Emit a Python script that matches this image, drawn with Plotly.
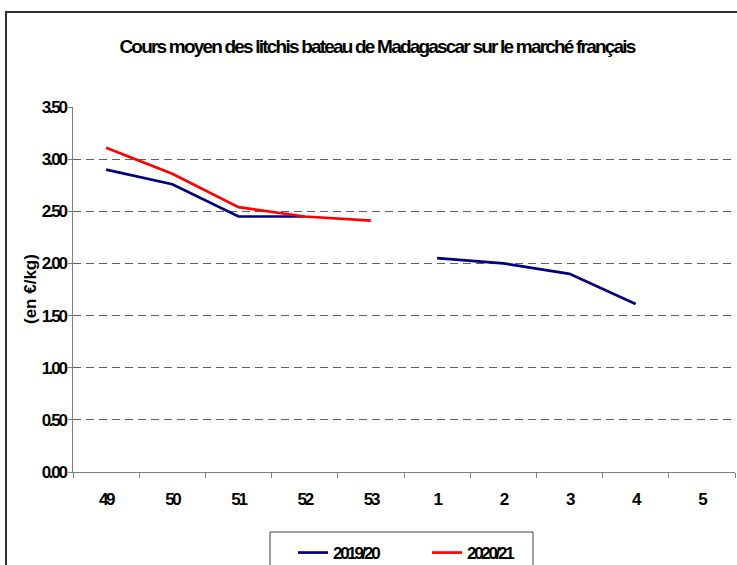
import plotly.graph_objects as go

weeks = ["49", "50", "51", "52", "53", "1", "2", "3", "4", "5"]
s2019 = [2.90, 2.76, 2.45, 2.45, None, 2.05, 2.00, 1.90, 1.61, None]
s2020 = [3.11, 2.86, 2.54, 2.45, 2.41, None, None, None, None, None]
y_ticks = [0, 0.5, 1, 1.5, 2, 2.5, 3, 3.5]
y_labels = ["0.00", "0.50", "1.00", "1.50", "2.00", "2.50", "3.00", "3.50"]

W, H = 737, 565
L, R, T, B = 73, 2, 107, 93
pw, ph = W - L - R, H - T - B

def px(x):
    return (x - L) / pw

def py(y):
    return (H - B - y) / ph

FONT = "Liberation Sans, Arial, sans-serif"

fig = go.Figure()
fig.add_trace(go.Scatter(x=weeks, y=s2019, mode="lines", name="2019/20",
                         line=dict(color="#000080", width=2.7), connectgaps=False))
fig.add_trace(go.Scatter(x=weeks, y=s2020, mode="lines", name="2020/21",
                         line=dict(color="#FF0000", width=2.7), connectgaps=False))

fig.update_layout(
    width=W, height=H,
    margin=dict(l=L, r=R, t=T, b=B, autoexpand=False),
    paper_bgcolor="white", plot_bgcolor="white",
    font=dict(family=FONT, size=17, color="black", weight="bold"),
    title=dict(text="Cours moyen des litchis bateau de Madagascar sur le marché français",
               x=(377) / W, xanchor="center", xref="container",
               y=1 - 46 / H, yanchor="middle", yref="container",
               font=dict(family=FONT, size=19, color="black", weight="bold")),
    showlegend=True,
    legend=dict(orientation="h", x=px(293), xanchor="left", y=py(535), yanchor="top",
                bgcolor="rgba(0,0,0,0)", borderwidth=0,
                font=dict(family=FONT, size=17, color="black", weight="bold"),
                entrywidth=89, itemwidth=30),
)

fig.update_xaxes(type="category", range=[-0.5, 9.5], showline=True, linecolor="#808080",
                 linewidth=1, ticks="outside", ticklen=5, tickcolor="#808080",
                 tickson="boundaries", showgrid=False, ticklabelstandoff=12, automargin=False,
                 tickfont=dict(family=FONT, size=17, color="black", weight="bold"))
fig.update_yaxes(range=[0, 3.5], tickvals=y_ticks, ticktext=y_labels,
                 showline=True, linecolor="#808080", linewidth=1,
                 ticks="outside", ticklen=4, tickcolor="#808080",
                 showgrid=True, gridcolor="#606060", gridwidth=1, griddash="8px,5px",
                 zeroline=False, ticklabelstandoff=-1, automargin=False,
                 tickfont=dict(family=FONT, size=17, color="black", weight="bold"))

fig.add_annotation(text="(en €/kg)", textangle=-90, xref="paper", yref="paper",
                   x=px(30), y=py(289), xanchor="center", yanchor="middle",
                   showarrow=False, font=dict(family=FONT, size=17, color="black", weight="bold"))

# outer chart border
fig.add_shape(type="rect", xref="paper", yref="paper",
              x0=px(6), y0=py(H + 20), x1=px(W + 20), y1=py(12),
              line=dict(color="#303030", width=2), fillcolor="rgba(0,0,0,0)", layer="above")
# legend box
fig.add_shape(type="rect", xref="paper", yref="paper",
              x0=px(270), y0=py(H + 20), x1=px(533), y1=py(532),
              line=dict(color="#404040", width=1), fillcolor="rgba(0,0,0,0)")

post = """
document.body.style.margin = '0';
var gd = document.getElementById('{plot_id}');
function ls(){
  gd.querySelectorAll('.gtitle').forEach(function(t){ t.style.letterSpacing='-1.8px'; });
  gd.querySelectorAll('.ytick text, .xtick text, .legendtext').forEach(function(t){ t.style.letterSpacing='-2.3px'; });
}
ls();
gd.on('plotly_afterplot', ls);
"""

fig.write_html("out.html", post_script=post, config={"displayModeBar": False})
